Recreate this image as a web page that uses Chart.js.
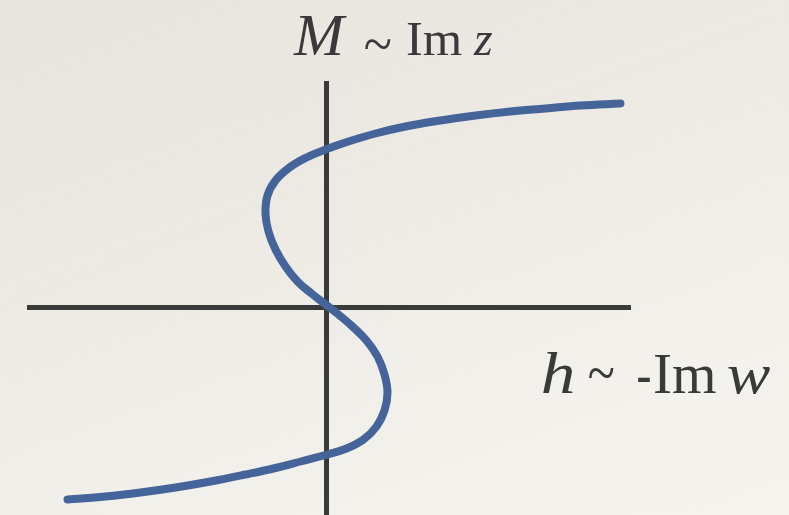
<!DOCTYPE html>
<html>
<head>
<meta charset="utf-8">
<script src="https://cdn.jsdelivr.net/npm/chart.js@4/dist/chart.umd.min.js"></script>
<style>
  html, body { margin: 0; padding: 0; }
  body {
    width: 789px; height: 515px; overflow: hidden;
    background: linear-gradient(160deg, #e8e5df 0%, #edeae4 40%, #f3f1ec 75%, #f6f4ef 100%);
  }
  canvas { display: block; }
</style>
</head>
<body>
<canvas id="c" width="789" height="515"></canvas>
<script>
// S-shaped response curve: field h against magnetisation M, traced from lower left to upper right
const hValues = [-2.59, -2.21, -1.86, -1.51, -1.16, -0.81, -0.51, -0.24, -0.01, 0.20,
                  0.37,  0.50,  0.58,  0.61,  0.58,  0.51,  0.40,  0.26,  0.12, -0.02,
                 -0.15, -0.29, -0.41, -0.51, -0.58, -0.61, -0.59, -0.51, -0.37, -0.20,
                 -0.01,  0.22,  0.49,  0.79,  1.14,  1.49,  1.84,  2.19,  2.54,  2.94];
const mValues = [-1.92, -1.89, -1.85, -1.80, -1.74, -1.67, -1.605, -1.535, -1.475, -1.41,
                 -1.32, -1.19, -1.03, -0.85, -0.67, -0.49, -0.33, -0.19, -0.07,  0.04,
                  0.14,  0.26,  0.41,  0.58,  0.76,  0.94,  1.12,  1.27,  1.40,  1.50,
                  1.58,  1.66,  1.74,  1.81,  1.87,  1.92,  1.96,  1.99,  2.02,  2.04];

// Axis ranges
const hRange = [-2.975, 3.035];
const mRange = [-2.075, 2.245];

// Axis captions, drawn as runs of mixed italic / upright serif text
const SERIF = '"Liberation Serif", "DejaVu Serif", serif';
const topCaption = [
  { text: 'M',  italic: true,  size: 60, x0: 293, x1: 347, base: 55 },
  { text: '~',  italic: false, size: 40, x0: 365, x1: 391, y0: 39, y1: 49 },
  { text: 'Im', italic: false, size: 48, x0: 407, x1: 462, base: 55 },
  { text: 'z',  italic: true,  size: 48, x0: 473, x1: 493, base: 55 }
];
const rightCaption = [
  { text: 'h',  italic: true,  size: 60, x0: 543, x1: 573, base: 393 },
  { text: '~',  italic: false, size: 44, x0: 589, x1: 614, y0: 367, y1: 378 },
  { text: '-',  italic: false, size: 56, x0: 638, x1: 650, base: 393 },
  { text: 'Im', italic: false, size: 56, x0: 655, x1: 716, base: 393 },
  { text: 'w',  italic: true,  size: 56, x0: 728, x1: 770, base: 393 }
];

const INK = '#3a3a3a';

const captionPlugin = {
  id: 'captions',
  afterDraw(chart) {
    const ctx = chart.ctx;
    ctx.save();
    ctx.fillStyle = INK;
    ctx.textAlign = 'left';
    ctx.textBaseline = 'alphabetic';
    for (const run of [...topCaption, ...rightCaption]) {
      ctx.font = (run.italic ? 'italic ' : '') + run.size + 'px ' + SERIF;
      const m = ctx.measureText(run.text);
      const left = m.actualBoundingBoxLeft;
      const asc = m.actualBoundingBoxAscent;
      const desc = m.actualBoundingBoxDescent;
      const sx = (run.x1 - run.x0) / (m.actualBoundingBoxRight + left);
      ctx.save();
      if (run.y0 !== undefined) {
        // fit the glyph's ink into the given box
        const sy = (run.y1 - run.y0) / (asc + desc);
        ctx.translate(run.x0, run.y0);
        ctx.scale(sx, sy);
        ctx.fillText(run.text, left, asc);
      } else {
        ctx.translate(run.x0, run.base);
        ctx.scale(sx, 1);
        ctx.fillText(run.text, left, 0);
      }
      ctx.restore();
    }
    ctx.restore();
  }
};

const points = hValues.map((h, i) => ({ x: h, y: mValues[i] }));

new Chart(document.getElementById('c'), {
  type: 'scatter',
  data: {
    datasets: [{
      data: points,
      showLine: true,
      tension: 0.4,
      borderColor: '#44649a',
      borderWidth: 8,
      borderCapStyle: 'round',
      borderJoinStyle: 'round',
      pointRadius: 0,
      pointHoverRadius: 0,
      fill: false
    }]
  },
  options: {
    responsive: false,
    animation: false,
    events: [],
    layout: { padding: { left: 29, right: 159, top: 83, bottom: 0 } },
    plugins: { legend: { display: false }, tooltip: { enabled: false } },
    scales: {
      x: {
        type: 'linear',
        min: hRange[0], max: hRange[1],
        position: { y: 0 },
        grid: { display: false, drawTicks: false },
        ticks: { display: false },
        border: { display: true, width: 5, color: INK }
      },
      y: {
        type: 'linear',
        min: mRange[0], max: mRange[1],
        position: { x: 0 },
        grid: { display: false, drawTicks: false },
        ticks: { display: false },
        border: { display: true, width: 5, color: INK }
      }
    }
  },
  plugins: [captionPlugin]
});
</script>
</body>
</html>
